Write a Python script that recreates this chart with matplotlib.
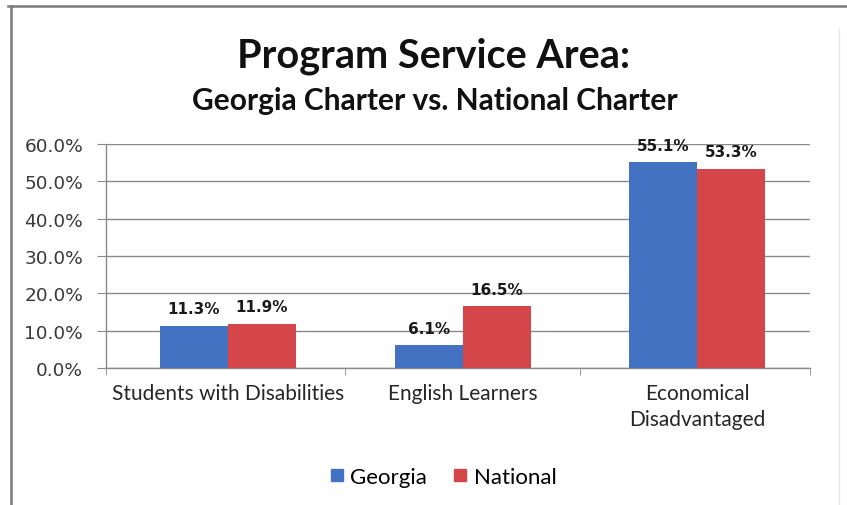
import numpy as np
import matplotlib
matplotlib.use("Agg")
from matplotlib import pyplot as plt
from matplotlib.lines import Line2D
from matplotlib.ticker import FuncFormatter, MultipleLocator

# service area shares, percent
categories = ["Students with Disabilities", "English Learners", "Economical\nDisadvantaged"]
georgia = [11.3, 6.1, 55.1]
national = [11.9, 16.5, 53.3]
series_names = ["Georgia", "National"]

BLUE = "#4372c2"
RED = "#d4464a"
GRID = "#8a8a8a"
TEXT_FONT = "Lato"

fig = plt.figure(figsize=(8.47, 5.06), dpi=100)
fig.patch.set_facecolor("white")

# outer frame (top and left edges)
fig.add_artist(Line2D([8 / 847, 1.0], [1 - 6.5 / 506, 1 - 6.5 / 506], color="#7a7a7a", lw=1.8))
fig.add_artist(Line2D([10.5 / 847, 10.5 / 847], [0.0, 1 - 6.5 / 506], color="#7a7a7a", lw=1.8))
fig.add_artist(Line2D([839 / 847, 839 / 847], [0.0, 1 - 30 / 506], color="#e6e6e6", lw=1.0))

ax = fig.add_axes([106 / 847, 1 - 369 / 506, 704 / 847, 224 / 506])

x = np.arange(len(categories))
w = 0.29
b1 = ax.bar(x - w / 2, georgia, w, color=BLUE, label=series_names[0], zorder=3)
b2 = ax.bar(x + w / 2, national, w, color=RED, label=series_names[1], zorder=3)

for bars, vals in ((b1, georgia), (b2, national)):
    for rect, v in zip(bars, vals):
        ax.annotate(f"{v:.1f}%", (rect.get_x() + rect.get_width() / 2, v),
                    xytext=(0, 7), textcoords="offset points", ha="center", va="bottom",
                    fontsize=11, fontweight="bold", color="#1a1a1a", family="DejaVu Sans")

ax.set_xlim(-0.52, 2.48)
ax.set_ylim(0, 60)
ax.yaxis.set_major_locator(MultipleLocator(10))
ax.yaxis.set_major_formatter(FuncFormatter(lambda v, p: f"{v:.1f}%"))
ax.yaxis.grid(True, color=GRID, lw=1.0, zorder=0)
ax.set_axisbelow(True)

ax.set_xticks(x)
ax.set_xticklabels(categories, fontsize=15, family=TEXT_FONT, color="#262626", linespacing=1.35)
ax.set_xticks([-0.52, 0.5, 1.5, 2.48], minor=True)
ax.tick_params(axis="x", which="major", length=0, pad=11)
ax.tick_params(axis="x", which="minor", length=5, color=GRID, direction="out")
ax.tick_params(axis="y", length=6.5, color=GRID, labelsize=13.3, labelcolor="#3a3a3a", pad=10)
for lab in ax.get_yticklabels():
    lab.set_family("DejaVu Sans")

for side in ("top", "right"):
    ax.spines[side].set_visible(False)
for side in ("left", "bottom"):
    ax.spines[side].set_color(GRID)
    ax.spines[side].set_linewidth(1.0)

fig.text(434 / 847, 1 - 56 / 506, "Program Service Area:", ha="center", va="center",
         fontsize=28.5, fontweight="bold", family=TEXT_FONT, color="#111111")
fig.text(435 / 847, 1 - 101 / 506, "Georgia Charter vs. National Charter", ha="center", va="center",
         fontsize=21.5, fontweight="bold", family=TEXT_FONT, color="#111111")

handles = [Line2D([], [], marker="s", ls="none", markersize=8.5, color=c) for c in (BLUE, RED)]
fig.legend(handles, series_names, loc="center", bbox_to_anchor=(440 / 847, 1 - 478 / 506),
           ncol=2, frameon=False, handletextpad=0.0, columnspacing=0.9, handlelength=1.2,
           prop={"family": TEXT_FONT, "size": 16})

fig.savefig("out.png", dpi=100, facecolor="white")
